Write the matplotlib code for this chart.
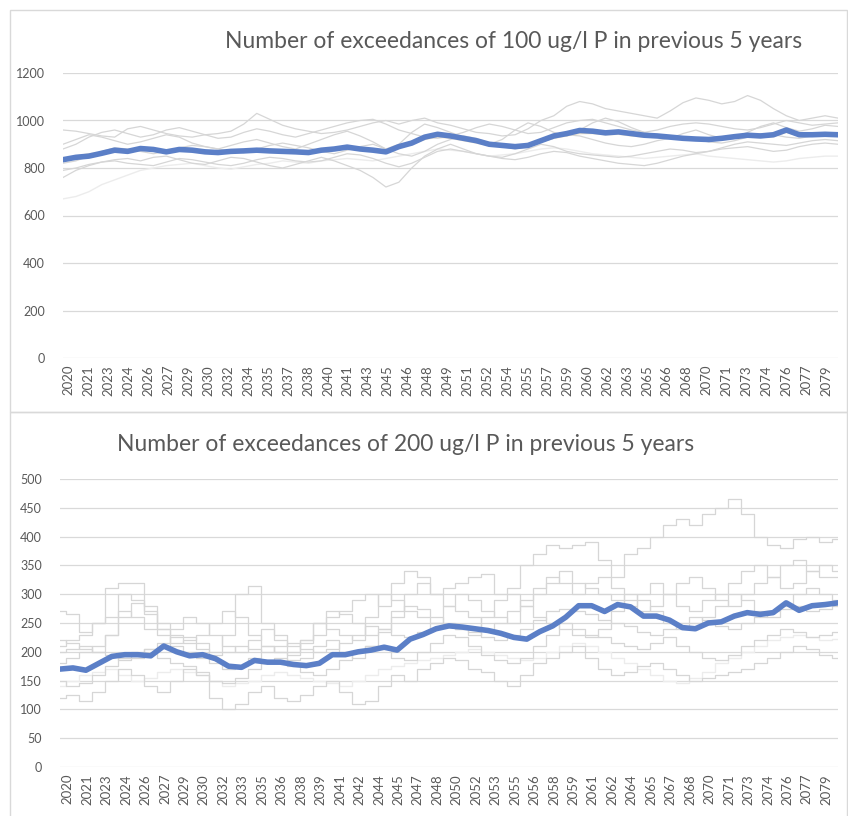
import numpy as np
import matplotlib
matplotlib.use("Agg")
import matplotlib.pyplot as plt
from matplotlib.patches import Rectangle

plt.rcParams['font.family'] = ['Lato', 'DejaVu Sans']

# ---------------- data ----------------
years = list(range(2020, 2081))

top_title = "Number of exceedances of 100 ug/l P in previous 5 years"
bot_title = "Number of exceedances of 200 ug/l P in previous 5 years"

top_labels = ["2020", "2021", "2023", "2024", "2026", "2027", "2029", "2030", "2032", "2034",
              "2035", "2037", "2038", "2040", "2041", "2043", "2045", "2046", "2048", "2049",
              "2051", "2052", "2054", "2055", "2057", "2059", "2060", "2062", "2063", "2065",
              "2066", "2068", "2070", "2071", "2073", "2074", "2076", "2077", "2079"]
bot_labels = ["2020", "2021", "2023", "2024", "2026", "2027", "2029", "2030", "2032", "2033",
              "2035", "2036", "2038", "2039", "2041", "2042", "2044", "2045", "2047", "2048",
              "2050", "2052", "2053", "2055", "2056", "2058", "2059", "2061", "2062", "2064",
              "2065", "2067", "2068", "2070", "2071", "2073", "2074", "2076", "2077", "2079"]

top_yticks = [0, 200, 400, 600, 800, 1000, 1200]
bot_yticks = [0, 50, 100, 150, 200, 250, 300, 350, 400, 450, 500]

top_mean = [835, 845, 850, 862, 875, 870, 882, 878, 868, 878,
            875, 868, 865, 870, 872, 875, 872, 870, 868, 865,
            875, 880, 888, 880, 875, 868, 890, 905, 930, 942,
            935, 925, 915, 900, 895, 890, 895, 915, 935, 945,
            958, 955, 948, 952, 945, 938, 935, 930, 925, 922,
            920, 925, 932, 938, 935, 940, 960, 940, 940, 942, 940]

top_t1 = [960, 955, 945, 935, 930, 965, 975, 960, 945, 935,
          930, 940, 945, 955, 985, 1030, 1005, 980, 965, 955,
          945, 950, 960, 975, 990, 1000, 985, 1000, 1010, 990,
          980, 965, 950, 945, 935, 940, 965, 1000, 1020, 1060,
          1080, 1070, 1050, 1040, 1030, 1020, 1010, 1040, 1075, 1095,
          1085, 1070, 1080, 1105, 1085, 1050, 1020, 1000, 1010, 1020, 1010]
top_t2 = [900, 920, 940, 930, 915, 900, 910, 925, 940, 930,
          905, 890, 880, 895, 910, 920, 905, 890, 880, 900,
          920, 940, 955, 935, 910, 880, 900, 950, 985, 970,
          950, 930, 910, 900, 920, 960, 990, 975, 950, 935,
          960, 990, 1010, 995, 970, 950, 935, 925, 945, 960,
          940, 925, 930, 950, 975, 990, 970, 955, 965, 980, 975]
top_t3 = [760, 790, 810, 825, 835, 840, 830, 845, 850, 835,
          820, 815, 830, 845, 840, 825, 810, 800, 815, 830,
          845, 830, 810, 790, 760, 720, 740, 800, 850, 880,
          900, 880, 860, 850, 845, 860, 880, 900, 890, 870,
          860, 855, 850, 845, 850, 860, 870, 880, 875, 865,
          870, 885, 900, 910, 905, 900, 895, 905, 915, 920, 915]
top_t4 = [670, 680, 700, 730, 750, 770, 790, 800, 810, 815,
          820, 810, 800, 795, 805, 815, 820, 830, 825, 820,
          830, 835, 840, 835, 830, 840, 850, 860, 870, 880,
          875, 870, 860, 850, 855, 860, 870, 880, 885, 880,
          870, 860, 855, 850, 845, 840, 845, 850, 855, 860,
          850, 845, 840, 835, 830, 825, 830, 840, 845, 850, 850]
top_t5 = [880, 900, 930, 950, 960, 945, 930, 940, 960, 970,
          955, 940, 925, 930, 950, 965, 955, 940, 930, 945,
          960, 975, 990, 1000, 1005, 985, 960, 945, 930, 925,
          935, 950, 970, 985, 975, 960, 945, 950, 970, 990,
          1000, 1005, 990, 975, 960, 950, 960, 975, 985, 990,
          985, 975, 965, 960, 970, 985, 1000, 990, 980, 985, 990]
top_t6 = [820, 830, 850, 870, 885, 880, 870, 860, 870, 885,
          895, 890, 880, 870, 865, 880, 895, 905, 895, 885,
          870, 860, 875, 890, 900, 880, 860, 850, 870, 900,
          920, 935, 925, 905, 890, 880, 890, 910, 925, 940,
          935, 920, 905, 895, 890, 900, 915, 925, 930, 920,
          910, 905, 915, 930, 945, 940, 930, 925, 935, 945, 940]
top_t7 = [790, 800, 815, 825, 830, 820, 815, 810, 825, 840,
          835, 825, 815, 810, 820, 835, 845, 840, 830, 825,
          830, 845, 860, 855, 840, 820, 805, 820, 845, 870,
          880, 870, 860, 850, 840, 835, 845, 860, 870, 865,
          850, 840, 830, 820, 815, 810, 820, 835, 850, 860,
          870, 880, 885, 890, 880, 870, 875, 890, 900, 905, 900]
top_t8 = [840, 850, 860, 865, 870, 875, 880, 875, 870, 872,
          870, 865, 862, 866, 870, 872, 870, 868, 866, 870,
          875, 880, 885, 878, 870, 865, 885, 900, 920, 930,
          925, 915, 905, 895, 890, 888, 895, 910, 925, 935,
          945, 945, 940, 942, 935, 930, 928, 925, 920, 918,
          915, 918, 925, 930, 928, 932, 950, 935, 935, 938, 936]

bot_mean = [170, 172, 168, 180, 192, 195, 195, 193, 210, 200,
            193, 195, 188, 175, 173, 185, 182, 182, 178, 176,
            180, 195, 195, 200, 203, 208, 203, 222, 230, 240,
            245, 243, 240, 237, 232, 225, 222, 235, 245, 260,
            280, 280, 270, 282, 278, 262, 262, 255, 242, 240,
            250, 252, 262, 268, 265, 268, 285, 272, 280, 282, 285]

bot_b1 = [270, 265, 235, 250, 310, 320, 320, 265, 240, 230,
          225, 215, 200, 230, 300, 315, 250, 220, 200, 215,
          230, 260, 270, 290, 300, 280, 320, 340, 330, 300,
          310, 320, 330, 335, 300, 310, 350, 370, 385, 380,
          385, 390, 360, 330, 370, 380, 400, 420, 430, 420,
          440, 450, 465, 440, 400, 385, 380, 395, 400, 390, 395]
bot_b2 = [210, 220, 230, 250, 260, 300, 290, 280, 250, 240,
          260, 250, 230, 210, 200, 220, 240, 230, 210, 220,
          250, 240, 230, 220, 260, 300, 290, 270, 260, 250,
          280, 300, 290, 270, 260, 250, 280, 300, 320, 340,
          320, 310, 300, 290, 280, 300, 320, 300, 280, 270,
          290, 300, 320, 340, 350, 330, 310, 320, 340, 350, 340]
bot_b3 = [120, 125, 115, 130, 150, 170, 160, 140, 130, 150,
          170, 160, 120, 100, 110, 130, 140, 120, 115, 125,
          140, 150, 130, 110, 115, 140, 160, 150, 170, 180,
          190, 185, 170, 165, 150, 140, 160, 180, 190, 200,
          210, 190, 170, 160, 165, 175, 180, 170, 160, 150,
          155, 160, 165, 170, 180, 190, 200, 210, 205, 195, 190]
bot_b4 = [220, 215, 205, 200, 230, 270, 260, 240, 230, 215,
          220, 230, 250, 270, 260, 230, 210, 200, 195, 220,
          250, 270, 265, 250, 230, 235, 260, 280, 275, 260,
          250, 240, 230, 260, 290, 300, 280, 260, 250, 240,
          230, 225, 240, 270, 300, 290, 270, 250, 240, 250,
          260, 280, 300, 290, 270, 260, 280, 300, 310, 300, 290]
bot_b5 = [150, 140, 145, 160, 175, 190, 200, 205, 190, 180,
          175, 165, 150, 145, 155, 170, 180, 190, 175, 165,
          160, 170, 185, 200, 210, 205, 190, 185, 200, 215,
          230, 225, 210, 195, 185, 180, 190, 210, 230, 250,
          240, 230, 225, 215, 210, 205, 215, 225, 210, 200,
          190, 185, 195, 210, 220, 230, 240, 235, 225, 230, 235]
bot_b6 = [180, 190, 200, 210, 230, 260, 285, 270, 240, 210,
          200, 190, 180, 170, 175, 190, 210, 200, 185, 190,
          210, 220, 200, 190, 210, 240, 270, 300, 320, 300,
          280, 270, 260, 240, 250, 270, 290, 310, 330, 320,
          300, 320, 330, 310, 290, 270, 280, 300, 320, 330,
          310, 290, 280, 300, 320, 330, 350, 360, 340, 330, 330]
bot_b7 = [140, 150, 160, 165, 170, 160, 150, 155, 165, 170,
          165, 160, 150, 140, 145, 150, 160, 165, 160, 155,
          150, 145, 140, 150, 160, 170, 175, 180, 185, 190,
          195, 200, 205, 200, 195, 190, 185, 190, 200, 210,
          215, 210, 200, 190, 180, 170, 160, 150, 145, 155,
          165, 180, 190, 200, 210, 220, 225, 230, 225, 220, 222]
bot_b8 = [200, 205, 210, 200, 195, 185, 190, 205, 215, 225,
          215, 205, 195, 200, 210, 205, 200, 210, 215, 205,
          200, 205, 215, 230, 245, 240, 230, 225, 235, 250,
          245, 240, 235, 225, 220, 230, 240, 255, 270, 275,
          270, 265, 255, 250, 245, 235, 230, 240, 250, 260,
          255, 245, 240, 250, 260, 270, 275, 280, 270, 275, 280]

top_gray = [top_t1, top_t2, top_t3, top_t5, top_t6, top_t7]
top_faint = [top_t4]
top_tan = [top_t8]
bot_gray = [bot_b1, bot_b2, bot_b3, bot_b4, bot_b5, bot_b6, bot_b8]
bot_faint = [bot_b7]

# ---------------- drawing ----------------
W, H = 848, 816
fig = plt.figure(figsize=(W / 100, H / 100), dpi=100)
fig.patch.set_facecolor("white")

def frac_rect(x0, y0, x1, y1):
    return (x0 / W, 1 - y1 / H, (x1 - x0) / W, (y1 - y0) / H)

# chart borders
for (x0, y0, x1, y1) in [(10, 10, 847, 412), (10, 412, 847, 830)]:
    fig.add_artist(Rectangle((x0 / W, 1 - y1 / H), (x1 - x0) / W, (y1 - y0) / H,
                             transform=fig.transFigure, fill=False,
                             edgecolor="#d9d9d9", linewidth=1.0))

TXT = "#595959"
GRID = "#d9d9d9"

def setup(ax, yticks, labels, lab_start, lab_end):
    ax.set_xlim(years[0], years[-1])
    ax.set_ylim(yticks[0], yticks[-1])
    ax.set_yticks(yticks)
    ax.set_yticklabels([str(v) for v in yticks], fontsize=9, color=TXT)
    ax.grid(axis="y", color=GRID, linewidth=0.9)
    ax.set_axisbelow(True)
    for s in ax.spines.values():
        s.set_visible(False)
    pos = np.linspace(lab_start, lab_end, len(labels))
    ax.set_xticks(pos)
    ax.set_xticklabels(labels, rotation=90, fontsize=9.5, color=TXT)
    ax.tick_params(axis="both", length=0, pad=5)
    ax.tick_params(axis="y", pad=13)

# top chart
ax1 = fig.add_axes(frac_rect(63, 73, 838, 358))
setup(ax1, top_yticks, top_labels, 2020.45, 2079.1)
for s in top_faint:
    ax1.plot(years, s, color="#ececec", lw=1.0, zorder=2)
for s in top_tan:
    ax1.plot(years, s, color="#efe3cc", lw=1.0, zorder=2)
for s in top_gray:
    ax1.plot(years, s, color="#d6d6d6", lw=0.9, zorder=3)
ax1.plot(years, top_mean, color="#5b7fc7", lw=4.0, zorder=5, solid_capstyle="round")

fig.text(514 / W, 1 - 42 / H, top_title, ha="center", va="center",
         fontsize=16.5, color=TXT)

# bottom chart
ax2 = fig.add_axes(frac_rect(60, 479, 838, 767))
setup(ax2, bot_yticks, bot_labels, 2020.6, 2079.1)
for s in bot_faint:
    ax2.plot(years, s, color="#ececec", lw=1.0, zorder=2, drawstyle="steps-mid")
for s in bot_gray:
    ax2.plot(years, s, color="#d6d6d6", lw=0.9, zorder=3, drawstyle="steps-mid")
ax2.plot(years, bot_mean, color="#5b7fc7", lw=4.0, zorder=5, solid_capstyle="round")

fig.text(406 / W, 1 - 445 / H, bot_title, ha="center", va="center",
         fontsize=16.5, color=TXT)

fig.savefig("out.png", dpi=100, facecolor="white")
